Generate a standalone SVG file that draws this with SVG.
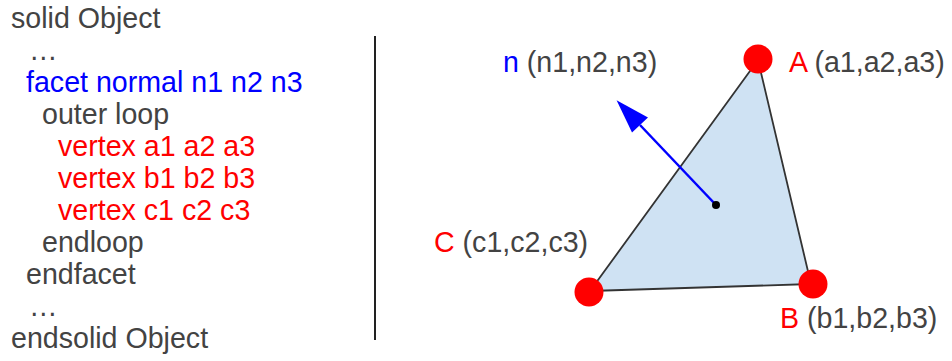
<svg xmlns="http://www.w3.org/2000/svg" width="952" height="361" viewBox="0 0 952 361">
  <style>
    text { font-family: "Liberation Sans", Arial, sans-serif; font-size: 28.6px; fill: #434343; }
    .blue { fill: #0000ff; }
    .red { fill: #ff0000; }
    .vtx { fill: #ff0000; }
  </style>
  <defs>
    <marker id="arrow" markerUnits="userSpaceOnUse" markerWidth="40" markerHeight="30" refX="0" refY="12" orient="auto" overflow="visible">
      <path d="M0,1 L34,12 L0,23 z" fill="#0000ff"/>
    </marker>
  </defs>

  <g id="code">
    <text x="11" y="28">solid Object</text>
    <text x="29" y="60">…</text>
    <text x="26" y="92" class="blue">facet normal n1 n2 n3</text>
    <text x="42" y="124">outer loop</text>
    <text x="58" y="156" class="red">vertex a1 a2 a3</text>
    <text x="58" y="188" class="red">vertex b1 b2 b3</text>
    <text x="58" y="220" class="red">vertex c1 c2 c3</text>
    <text x="42" y="252">endloop</text>
    <text x="26" y="284">endfacet</text>
    <text x="29" y="316">…</text>
    <text x="11" y="348">endsolid Object</text>
  </g>

  <g id="divider">
    <line x1="375" y1="36" x2="375" y2="340" stroke="#222" stroke-width="2"/>
  </g>

  <g id="triangle">
    <polygon points="758,60 811,284 590,291" fill="#cfe2f3" stroke="#333" stroke-width="1.8" stroke-linejoin="round"/>
  </g>

  <g id="connectors">
    <line x1="716" y1="205" x2="640" y2="125" stroke="#0000ff" stroke-width="2.5" marker-end="url(#arrow)"/>
  </g>

  <g id="centroid">
    <circle cx="716" cy="205" r="4" fill="#000"/>
  </g>

  <g id="vertexA">
    <circle class="vtx" cx="758" cy="59" r="14.5"/>
    <text x="789" y="72"><tspan class="red">A</tspan> (a1,a2,a3)</text>
  </g>
  <g id="vertexB">
    <circle class="vtx" cx="813" cy="284" r="14.5"/>
    <text x="780" y="328"><tspan class="red">B</tspan> (b1,b2,b3)</text>
  </g>
  <g id="vertexC">
    <circle class="vtx" cx="589" cy="292" r="14.5"/>
    <text x="434" y="252"><tspan class="red">C</tspan> (c1,c2,c3)</text>
  </g>
  <g id="normalLabel">
    <text x="503" y="72"><tspan class="blue">n</tspan> (n1,n2,n3)</text>
  </g>
</svg>
